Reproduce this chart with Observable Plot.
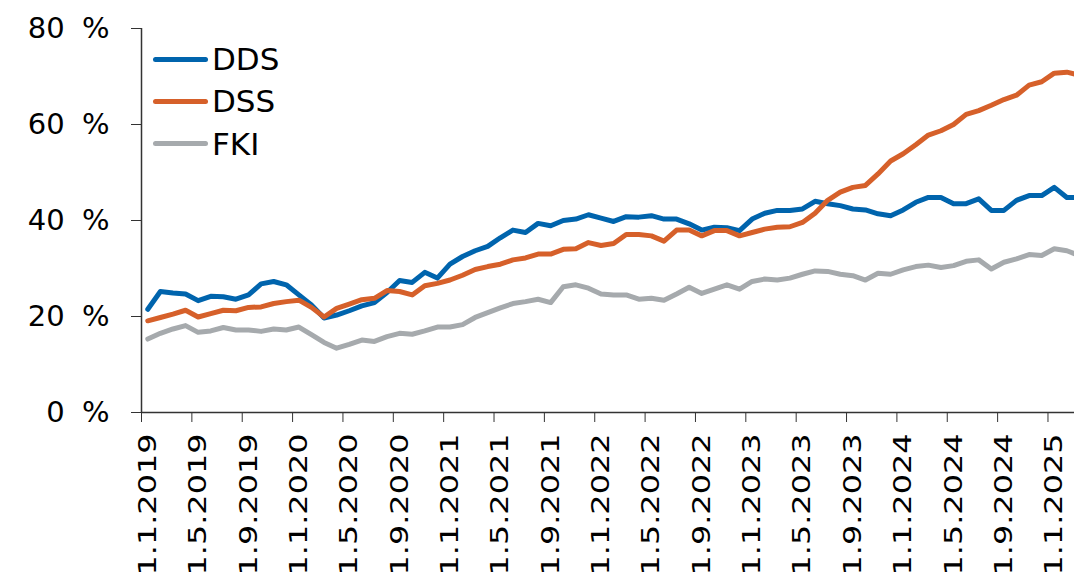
<!DOCTYPE html>
<html><head><meta charset="utf-8">
<script src="https://cdn.jsdelivr.net/npm/d3@7"></script>
<script src="https://cdn.jsdelivr.net/npm/@observablehq/plot@0.6"></script>
<style>
html,body{margin:0;padding:0;background:#fff;overflow:hidden;}
#wrap{position:relative;width:1074px;height:578px;}
#legend{position:absolute;left:153px;top:38px;font-family:"DejaVu Sans",Verdana,sans-serif;font-size:31px;color:#000;}
.item{display:flex;align-items:center;height:42.3px;}
.sw{width:55px;height:5px;border-radius:3px;margin-right:4px;}
</style></head><body><div id="wrap"><div id="legend"></div></div>
<script>
// Monthly data, January 2019 onwards (one value per month)
const startYear = 2019;
const seriesNames = ["DDS", "DSS", "FKI"];
const seriesColors = ["#0064ad", "#d6602a", "#a6aaad"];
const dds = [21.5,25.2,24.9,24.7,23.3,24.2,24.1,23.6,24.5,26.8,27.3,26.6,
  24.5,22.4,19.7,20.3,21.2,22.2,22.9,25.0,27.5,27.1,29.2,28.0,
  30.9,32.5,33.7,34.6,36.4,38.0,37.5,39.4,38.9,40.0,40.3,41.2,
  40.5,39.8,40.8,40.7,41.0,40.3,40.3,39.3,38.0,38.6,38.5,37.9,
  40.3,41.5,42.1,42.1,42.4,44.0,43.5,43.1,42.4,42.2,41.4,41.0,
  42.2,43.8,44.8,44.8,43.5,43.5,44.5,42.1,42.1,44.2,45.2,45.2,
  46.9,44.8,44.8];
const dss = [19.1,19.8,20.5,21.3,19.9,20.6,21.3,21.2,21.9,22.0,22.7,23.1,
  23.4,21.9,19.9,21.7,22.6,23.5,23.8,25.4,25.2,24.5,26.4,26.9,
  27.6,28.6,29.8,30.4,30.9,31.8,32.2,33.0,33.0,34.0,34.1,35.4,
  34.8,35.2,37.1,37.1,36.8,35.7,38.0,38.0,36.8,37.9,37.9,36.8,
  37.5,38.2,38.6,38.7,39.6,41.5,44.2,45.9,46.9,47.3,49.7,52.4,
  53.9,55.8,57.8,58.7,60.0,62.1,62.9,64.0,65.2,66.1,68.2,68.9,
  70.7,70.9,70.3];
const fki = [15.3,16.5,17.4,18.1,16.7,17.0,17.7,17.2,17.2,16.9,17.4,17.2,
  17.8,16.2,14.6,13.4,14.2,15.1,14.8,15.8,16.5,16.3,17.0,17.8,
  17.8,18.3,19.8,20.8,21.8,22.7,23.1,23.6,22.9,26.2,26.6,25.9,
  24.7,24.5,24.5,23.6,23.8,23.4,24.7,26.1,24.8,25.7,26.6,25.7,
  27.3,27.8,27.6,28.0,28.8,29.5,29.4,28.8,28.5,27.6,29.0,28.8,
  29.7,30.4,30.7,30.2,30.6,31.5,31.8,29.9,31.3,32.0,32.9,32.7,
  34.1,33.7,32.7];
const yTicks = [0, 20, 40, 60, 80];
const tickEveryMonths = 4;

const valuesBySeries = [dds, dss, fki];
const rows = [];
valuesBySeries.forEach((vals, s) => vals.forEach((v, i) => rows.push({series: seriesNames[s], m: i + 0.5, value: v})));

const nMonths = dds.length;
const tickBounds = d3.range(0, nMonths, tickEveryMonths);
const labelPos = tickBounds.map(b => b + 0.5);
const monthLabel = p => {
  const i = Math.floor(p);
  const y = startYear + Math.floor(i / 12);
  const m = (i % 12) + 1;
  return `1.${m}.${y}`;
};

const W = 1074, H = 578, ML = 141;
const monthPx = 12.59;
const chart = Plot.plot({
  width: W, height: H,
  marginLeft: ML, marginRight: 0, marginTop: 28, marginBottom: 166,
  style: {fontFamily: "'DejaVu Sans', Verdana, sans-serif", fontSize: "29px", color: "#000", background: "#fff"},
  x: {type: "linear", domain: [0, (W - ML) / monthPx]},
  y: {domain: [0, 80]},
  color: {domain: seriesNames, range: seriesColors},
  marks: [
    Plot.axisY({ticks: yTicks, tickSize: 10, tickPadding: 22, tickFormat: d => `${d} %`, fontSize: 29, label: null, stroke: "#333"}),
    Plot.axisX({ticks: tickBounds, tickSize: 10, tickFormat: () => "", label: null, stroke: "#333"}),
    Plot.axisX({ticks: labelPos, tickSize: 0, tickPadding: 21, tickRotate: -90, tickFormat: monthLabel, fontSize: 25, label: null}),
    Plot.line(rows, {x: "m", y: "value", z: "series", stroke: "series", strokeWidth: 5, strokeLinejoin: "round", strokeLinecap: "round", clip: true}),
    Plot.ruleX([0], {stroke: "#333", strokeWidth: 1.5}),
    Plot.ruleY([0], {stroke: "#333", strokeWidth: 1.5})
  ]
});
document.getElementById("wrap").prepend(chart);

// wider gap between number and percent sign, as in the reference
d3.select(chart).selectAll('g[aria-label="y-axis tick label"]').style("word-spacing", "8px");

// stretch rotated date labels to match the reference's elongated text
d3.select(chart).selectAll('g[aria-label="x-axis tick label"] text')
  .filter(function() { return this.textContent.length > 0; })
  .attr("textLength", 142).attr("lengthAdjust", "spacingAndGlyphs");

const legend = d3.select("#legend");
seriesNames.forEach((n, k) => {
  const it = legend.append("div").attr("class", "item");
  it.append("div").attr("class", "sw").style("background", seriesColors[k]);
  it.append("span").text(n);
});
</script></body></html>
